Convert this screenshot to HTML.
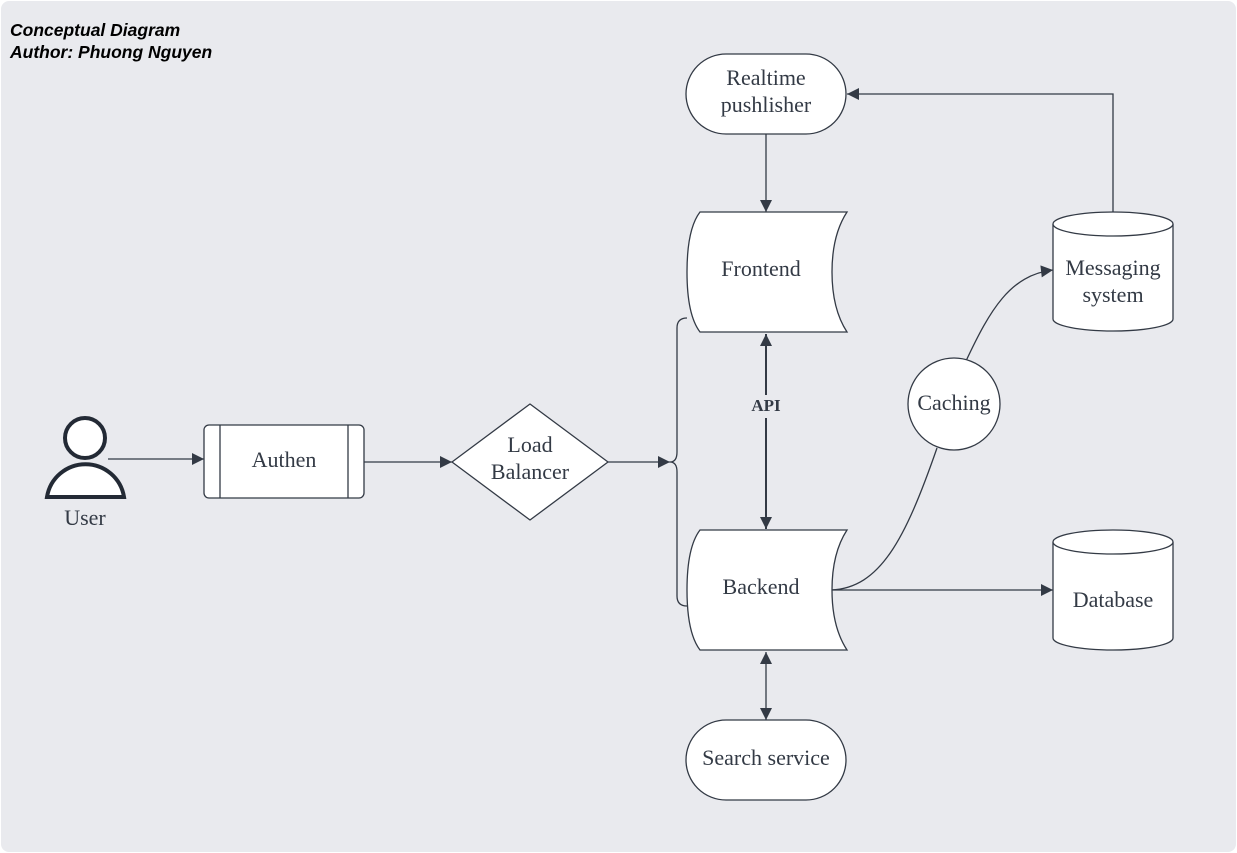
<!DOCTYPE html>
<html><head><meta charset="utf-8"><style>
html,body{margin:0;padding:0;background:#fff;}
svg{display:block}
text{font-family:"Liberation Serif",serif;font-size:22px;fill:#333a45;text-anchor:middle}
</style></head><body>
<svg width="1237" height="853" viewBox="0 0 1237 853" xmlns="http://www.w3.org/2000/svg">
<defs>
<marker id="a" viewBox="0 0 10 10" refX="10" refY="5" markerWidth="17" markerHeight="12" markerUnits="userSpaceOnUse" orient="auto-start-reverse"><path d="M0,0 L10,5 L0,10 Z" fill="#333a45"/></marker>
</defs>
<rect x="1" y="1" width="1235" height="851" rx="8" fill="#e9eaee"/>
<text x="10" y="36" style="font-family:'Liberation Sans',sans-serif;font-size:17.5px;font-weight:bold;font-style:italic;text-anchor:start;fill:#000">Conceptual Diagram</text>
<text x="10" y="58" style="font-family:'Liberation Sans',sans-serif;font-size:17.5px;font-weight:bold;font-style:italic;text-anchor:start;fill:#000">Author: Phuong Nguyen</text>

<g stroke="#333a45" stroke-width="1.3" fill="none">
<line x1="108" y1="459" x2="204" y2="459" marker-end="url(#a)"/>
<line x1="364" y1="462" x2="452" y2="462" marker-end="url(#a)"/>
<line x1="608" y1="462" x2="670" y2="462" marker-end="url(#a)"/>
<path d="M687,318 Q677,318 677,328 L677,452 Q677,462 670,462 Q677,462 677,472 L677,596 Q677,606 687,606"/>
<line x1="766" y1="134" x2="766" y2="212" marker-end="url(#a)"/>
<line x1="766" y1="334" x2="766" y2="395" marker-start="url(#a)" stroke-width="2"/>
<line x1="766" y1="418" x2="766" y2="529" marker-end="url(#a)" stroke-width="2"/>
<line x1="766" y1="652" x2="766" y2="720" marker-start="url(#a)" marker-end="url(#a)"/>
<path d="M1113,212 L1113,94 L847,94" marker-end="url(#a)"/>
<line x1="831" y1="590" x2="1053" y2="590" marker-end="url(#a)"/>
<path d="M831,590 C880,588 905,540 937,448"/>
<path d="M966,361 C990,310 1010,275 1053,270" marker-end="url(#a)"/>
</g>

<g stroke="#333a45" stroke-width="1.3" fill="#fff">
<circle cx="85" cy="438" r="20" stroke-width="4" stroke="#232a35"/>
<path d="M47,497 A39,39 0 0 1 124,497 Z" stroke-width="4" stroke="#232a35"/>
<rect x="204" y="425" width="160" height="73" rx="5"/>
<line x1="220" y1="425" x2="220" y2="498"/>
<line x1="348" y1="425" x2="348" y2="498"/>
<path d="M530,404 L608,462 L530,520 L452,462 Z" stroke-linejoin="round"/>
<rect x="686" y="54" width="160" height="80" rx="40"/>
<rect x="686" y="720" width="160" height="80" rx="40"/>
<path d="M700,212 L847,212 Q832,235 832,272 Q832,309 847,332 L700,332 Q687,315 687,272 Q687,229 700,212 Z"/>
<path d="M700,530 L847,530 Q832,553 832,590 Q832,627 847,650 L700,650 Q687,633 687,590 Q687,547 700,530 Z"/>
<circle cx="954" cy="404" r="46"/>
<path d="M1053,224 L1053,319 A60,12 0 0 0 1173,319 L1173,224 A60,12 0 0 0 1053,224 Z"/>
<path d="M1053,224 A60,12 0 0 0 1173,224"/>
<path d="M1053,542 L1053,638 A60,12 0 0 0 1173,638 L1173,542 A60,12 0 0 0 1053,542 Z"/>
<path d="M1053,542 A60,12 0 0 0 1173,542"/>
</g>

<text x="85" y="525">User</text>
<text x="284" y="467">Authen</text>
<text x="530" y="452">Load</text>
<text x="530" y="479">Balancer</text>
<text x="766" y="85">Realtime</text>
<text x="766" y="112">pushlisher</text>
<text x="761" y="276">Frontend</text>
<text x="761" y="594">Backend</text>
<text x="766" y="411" style="font-size:17px;font-weight:bold">API</text>
<text x="766" y="765">Search service</text>
<text x="954" y="410">Caching</text>
<text x="1113" y="275">Messaging</text>
<text x="1113" y="302">system</text>
<text x="1113" y="607">Database</text>
</svg>
</body></html>
